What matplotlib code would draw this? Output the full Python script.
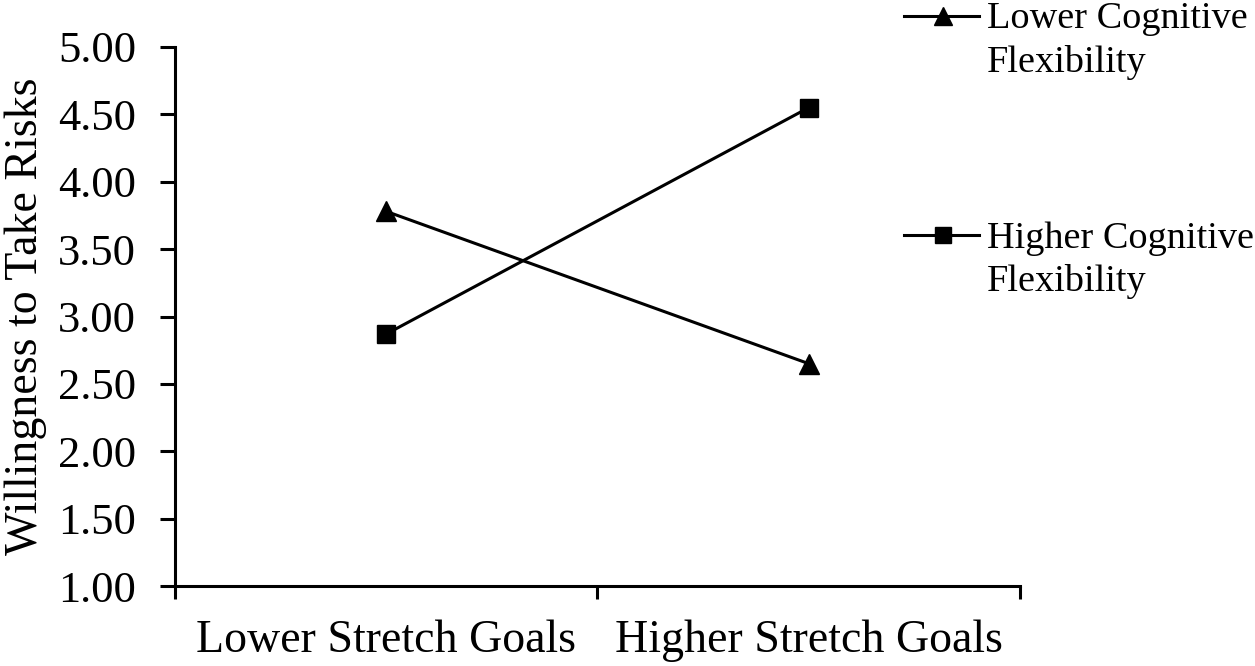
import matplotlib.pyplot as plt
from matplotlib.lines import Line2D

plt.rcParams['font.family'] = ['Liberation Serif', 'DejaVu Serif']

# data
conditions = ['Lower Stretch Goals', 'Higher Stretch Goals']
lower_flex = [3.78, 2.65]
higher_flex = [2.87, 4.55]
series_names = ['Lower Cognitive\nFlexibility', 'Higher Cognitive\nFlexibility']
yticks = [1.0, 1.5, 2.0, 2.5, 3.0, 3.5, 4.0, 4.5, 5.0]

W, H = 1255, 666
fig = plt.figure(figsize=(W / 100, H / 100), dpi=100)
ax = fig.add_axes([175 / W, 1 - 586 / H, (1020 - 175) / W, (586 - 47) / H])

xpos = [0.5, 1.5]
ax.plot(xpos, lower_flex, color='black', lw=2.2, marker='^', ms=15, clip_on=False)
ax.plot(xpos, higher_flex, color='black', lw=2.2, marker='s', ms=13, clip_on=False)

ax.set_xlim(0, 2)
ax.set_ylim(1, 5)
ax.set_yticks(yticks)
ax.set_yticklabels([f'{v:.2f}' for v in yticks])
ax.set_xticks([0, 1, 2])
ax.set_xticklabels([])
ax.set_xticks(xpos, minor=True)
ax.set_xticklabels(conditions, minor=True)
ax.tick_params(axis='x', which='minor', length=0, pad=24, labelsize=33)
ax.tick_params(axis='x', which='major', length=9, width=2.2, direction='out')
ax.tick_params(axis='y', length=11, width=2.2, direction='out', labelsize=32, pad=17)

for s in ['top', 'right']:
    ax.spines[s].set_visible(False)
for s in ['left', 'bottom']:
    ax.spines[s].set_linewidth(2.2)

ax.set_ylabel('Willingness to Take Risks', fontsize=33)
ax.yaxis.set_label_coords(-0.152, 0.5)

# legend drawn by hand so the handle sits on the first text line
markers = ['^', 's']
sizes = [13, 11]
rows = [16, 235]
for name, mk, sz, yr in zip(series_names, markers, sizes, rows):
    yf = 1 - yr / H
    fig.add_artist(Line2D([904 / W, 979 / W], [yf, yf], color='black', lw=2.2,
                          transform=fig.transFigure))
    fig.add_artist(Line2D([943 / W], [yf], color='black', marker=mk, ms=sz,
                          transform=fig.transFigure))
    fig.text(987 / W, 1 - (yr - 14) / H, name, fontsize=27.5, va='top', ha='left',
             linespacing=1.3)

fig.savefig('out.png', dpi=100)
